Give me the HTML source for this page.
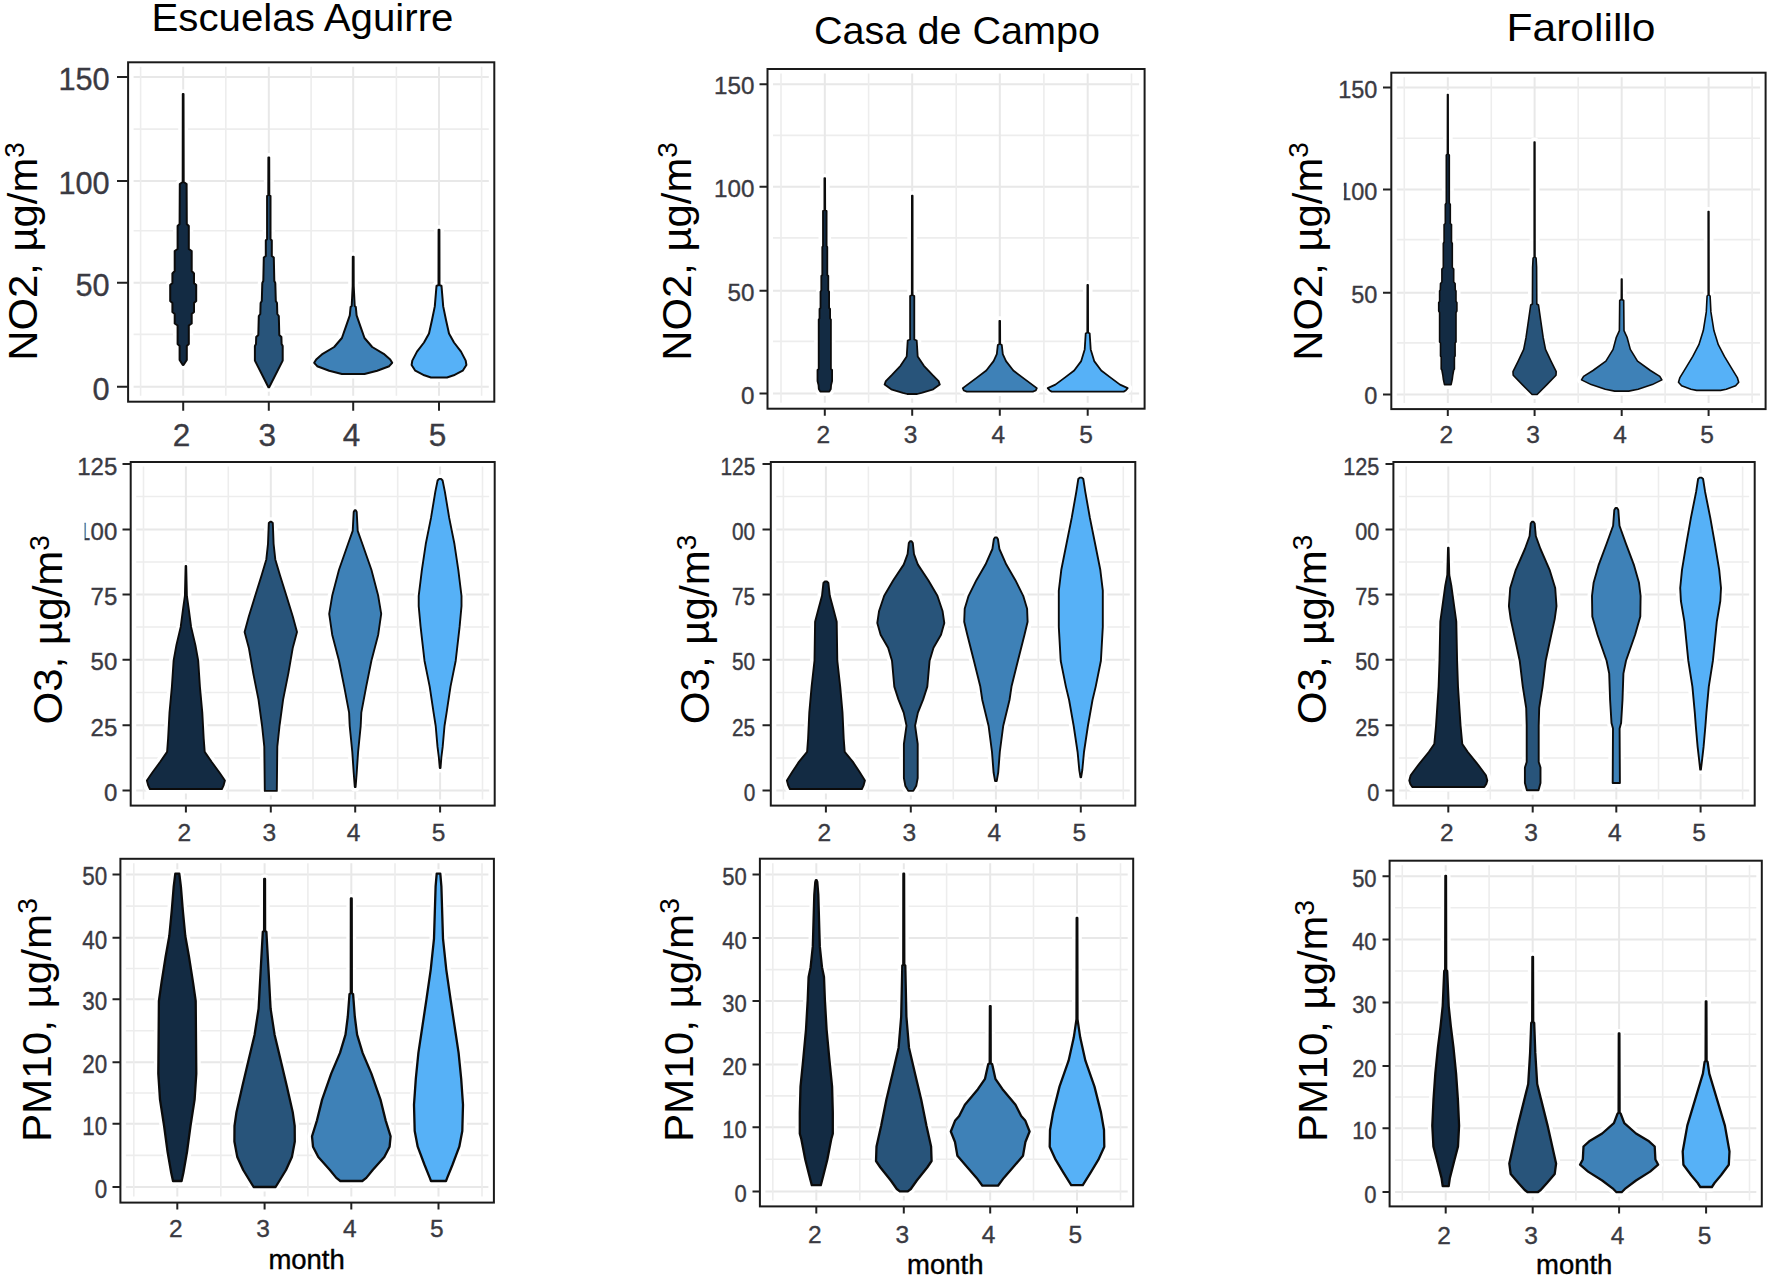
<!DOCTYPE html>
<html lang="es"><head><meta charset="utf-8"><title>Violin plots: NO2, O3, PM10 by month</title>
<style>html,body{margin:0;padding:0;background:#fff}svg{display:block}text{font-family:"Liberation Sans",Arial,sans-serif}.t{fill:#3a3a42;stroke:#3a3a42;stroke-width:.35px}.big{fill:#000}.mo{fill:#000;stroke:#000;stroke-width:.4px}</style></head><body>
<svg width="1772" height="1279" viewBox="0 0 1772 1279">
<rect width="1772" height="1279" fill="#fff"/>
<g>
<path d="M133.6 386.8H488.8M133.6 282.8H488.8M133.6 181.1H488.8M133.6 77.0H488.8" stroke="#e8e8e8" stroke-width="2.0" fill="none"/>
<path d="M133.6 129.1H488.8M133.6 230.7H488.8M133.6 334.4H488.8M140.6 66.8V395.7M225.8 66.8V395.7M311.1 66.8V395.7M396.4 66.8V395.7M481.6 66.8V395.7" stroke="#ededed" stroke-width="1.6" fill="none"/>
<path d="M183.2 66.8V395.7M268.8 66.8V395.7M353.2 66.8V395.7M439.0 66.8V395.7" stroke="#e8e8e8" stroke-width="2.0" fill="none"/>
<polygon points="182.8,94.0 182.7,182.0 179.8,184.0 179.6,224.0 177.6,226.0 177.6,249.0 174.7,251.0 174.7,271.0 172.4,273.5 172.4,283.0 170.2,285.0 170.2,301.0 172.4,303.0 172.4,312.0 174.7,314.0 174.7,323.5 177.6,325.5 177.6,344.0 179.6,346.0 179.6,360.0 182.8,365.0 183.5,365.0 186.8,360.0 186.8,346.0 188.8,344.0 188.8,325.5 191.7,323.5 191.7,314.0 194.0,312.0 194.0,303.0 196.2,301.0 196.2,285.0 194.0,283.0 194.0,273.5 191.7,271.0 191.7,251.0 188.8,249.0 188.8,226.0 186.8,224.0 186.6,184.0 183.7,182.0 183.5,94.0" fill="none" stroke="#fff" stroke-width="9" stroke-linejoin="round"/><polygon points="182.8,94.0 182.7,182.0 179.8,184.0 179.6,224.0 177.6,226.0 177.6,249.0 174.7,251.0 174.7,271.0 172.4,273.5 172.4,283.0 170.2,285.0 170.2,301.0 172.4,303.0 172.4,312.0 174.7,314.0 174.7,323.5 177.6,325.5 177.6,344.0 179.6,346.0 179.6,360.0 182.8,365.0 183.5,365.0 186.8,360.0 186.8,346.0 188.8,344.0 188.8,325.5 191.7,323.5 191.7,314.0 194.0,312.0 194.0,303.0 196.2,301.0 196.2,285.0 194.0,283.0 194.0,273.5 191.7,271.0 191.7,251.0 188.8,249.0 188.8,226.0 186.8,224.0 186.6,184.0 183.7,182.0 183.5,94.0" fill="#132b43" stroke="#0b0b0b" stroke-width="2.00" stroke-linejoin="round"/>
<polygon points="268.4,157.5 268.3,195.0 267.1,196.0 267.1,239.0 265.8,240.5 265.8,256.0 263.8,257.5 263.3,281.0 262.3,283.0 261.8,301.0 260.6,303.0 260.3,314.0 258.8,316.0 258.3,335.0 256.2,337.0 256.0,344.0 254.9,346.0 254.9,360.6 268.4,387.2 269.2,387.2 282.7,360.6 282.7,346.0 281.6,344.0 281.4,337.0 279.3,335.0 278.8,316.0 277.3,314.0 277.0,303.0 275.8,301.0 275.3,283.0 274.3,281.0 273.8,257.5 271.8,256.0 271.8,240.5 270.5,239.0 270.5,196.0 269.3,195.0 269.2,157.5" fill="none" stroke="#fff" stroke-width="9" stroke-linejoin="round"/><polygon points="268.4,157.5 268.3,195.0 267.1,196.0 267.1,239.0 265.8,240.5 265.8,256.0 263.8,257.5 263.3,281.0 262.3,283.0 261.8,301.0 260.6,303.0 260.3,314.0 258.8,316.0 258.3,335.0 256.2,337.0 256.0,344.0 254.9,346.0 254.9,360.6 268.4,387.2 269.2,387.2 282.7,360.6 282.7,346.0 281.6,344.0 281.4,337.0 279.3,335.0 278.8,316.0 277.3,314.0 277.0,303.0 275.8,301.0 275.3,283.0 274.3,281.0 273.8,257.5 271.8,256.0 271.8,240.5 270.5,239.0 270.5,196.0 269.3,195.0 269.2,157.5" fill="#28547a" stroke="#0b0b0b" stroke-width="2.00" stroke-linejoin="round"/>
<polygon points="352.8,256.7 352.7,286.0 351.7,306.0 350.6,307.0 349.8,315.4 345.9,326.7 341.9,338.0 334.2,347.0 322.7,353.8 316.2,359.5 314.2,362.8 317.2,366.2 329.2,370.7 341.9,374.0 364.5,374.0 377.2,370.7 389.2,366.2 392.2,362.8 390.2,359.5 383.7,353.8 372.2,347.0 364.5,338.0 360.5,326.7 356.6,315.4 355.8,307.0 354.7,306.0 353.7,286.0 353.6,256.7" fill="none" stroke="#fff" stroke-width="9" stroke-linejoin="round"/><polygon points="352.8,256.7 352.7,286.0 351.7,306.0 350.6,307.0 349.8,315.4 345.9,326.7 341.9,338.0 334.2,347.0 322.7,353.8 316.2,359.5 314.2,362.8 317.2,366.2 329.2,370.7 341.9,374.0 364.5,374.0 377.2,370.7 389.2,366.2 392.2,362.8 390.2,359.5 383.7,353.8 372.2,347.0 364.5,338.0 360.5,326.7 356.6,315.4 355.8,307.0 354.7,306.0 353.7,286.0 353.6,256.7" fill="#3e81b7" stroke="#0b0b0b" stroke-width="2.00" stroke-linejoin="round"/>
<polygon points="438.6,229.7 438.5,285.0 436.5,286.0 434.8,306.4 432.0,320.0 429.0,333.5 424.0,342.5 417.0,351.6 412.3,360.6 411.6,365.0 415.3,370.7 424.3,375.3 431.0,377.5 447.0,377.5 453.7,375.3 462.7,370.7 466.4,365.0 465.7,360.6 461.0,351.6 454.0,342.5 449.0,333.5 446.0,320.0 443.2,306.4 441.5,286.0 439.5,285.0 439.4,229.7" fill="none" stroke="#fff" stroke-width="9" stroke-linejoin="round"/><polygon points="438.6,229.7 438.5,285.0 436.5,286.0 434.8,306.4 432.0,320.0 429.0,333.5 424.0,342.5 417.0,351.6 412.3,360.6 411.6,365.0 415.3,370.7 424.3,375.3 431.0,377.5 447.0,377.5 453.7,375.3 462.7,370.7 466.4,365.0 465.7,360.6 461.0,351.6 454.0,342.5 449.0,333.5 446.0,320.0 443.2,306.4 441.5,286.0 439.5,285.0 439.4,229.7" fill="#56b1f7" stroke="#0b0b0b" stroke-width="2.00" stroke-linejoin="round"/>
<rect x="128.1" y="62.3" width="366.2" height="339.4" fill="none" stroke="#1a1a1a" stroke-width="2.0"/>
<path d="M117.0 386.8H128.1M117.0 282.8H128.1M117.0 181.1H128.1M117.0 77.0H128.1M183.2 401.7V410.7M268.8 401.7V410.7M353.2 401.7V410.7M439.0 401.7V410.7" stroke="#222" stroke-width="2.0" fill="none"/>
<text class="t" transform="translate(109.6 400.0) scale(1 1.040)" font-size="30.7" text-anchor="end">0</text>
<text class="t" transform="translate(109.6 296.0) scale(1 1.040)" font-size="30.7" text-anchor="end">50</text>
<text class="t" transform="translate(109.6 194.3) scale(1 1.040)" font-size="30.7" text-anchor="end">100</text>
<text class="t" transform="translate(109.6 90.2) scale(1 1.040)" font-size="30.7" text-anchor="end">150</text>
<text class="t" x="181.6" y="445.6" font-size="31.5" text-anchor="middle">2</text>
<text class="t" x="267.2" y="445.6" font-size="31.5" text-anchor="middle">3</text>
<text class="t" x="351.6" y="445.6" font-size="31.5" text-anchor="middle">4</text>
<text class="t" x="437.4" y="445.6" font-size="31.5" text-anchor="middle">5</text>
</g>
<g>
<path d="M773.0 393.5H1139.1M773.0 290.8H1139.1M773.0 186.7H1139.1M773.0 84.2H1139.1" stroke="#e8e8e8" stroke-width="2.0" fill="none"/>
<path d="M773.0 135.4H1139.1M773.0 237.9H1139.1M773.0 341.4H1139.1M781.0 73.5V402.7M868.6 73.5V402.7M956.2 73.5V402.7M1043.9 73.5V402.7M1131.5 73.5V402.7" stroke="#ededed" stroke-width="1.6" fill="none"/>
<path d="M824.8 73.5V402.7M912.2 73.5V402.7M999.8 73.5V402.7M1087.7 73.5V402.7" stroke="#e8e8e8" stroke-width="2.0" fill="none"/>
<polygon points="824.4,178.2 824.4,210.0 823.0,211.0 823.0,246.0 822.3,247.0 822.3,275.0 821.3,276.0 821.3,290.5 820.5,291.5 820.5,308.0 819.5,309.0 819.5,318.5 818.7,319.5 818.7,369.0 817.5,370.0 817.5,381.0 818.5,385.0 818.8,389.0 820.3,391.6 829.3,391.6 830.8,389.0 831.1,385.0 832.1,381.0 832.1,370.0 830.9,369.0 830.9,319.5 830.1,318.5 830.1,309.0 829.1,308.0 829.1,291.5 828.3,290.5 828.3,276.0 827.3,275.0 827.3,247.0 826.6,246.0 826.6,211.0 825.2,210.0 825.1,178.2" fill="none" stroke="#fff" stroke-width="9" stroke-linejoin="round"/><polygon points="824.4,178.2 824.4,210.0 823.0,211.0 823.0,246.0 822.3,247.0 822.3,275.0 821.3,276.0 821.3,290.5 820.5,291.5 820.5,308.0 819.5,309.0 819.5,318.5 818.7,319.5 818.7,369.0 817.5,370.0 817.5,381.0 818.5,385.0 818.8,389.0 820.3,391.6 829.3,391.6 830.8,389.0 831.1,385.0 832.1,381.0 832.1,370.0 830.9,369.0 830.9,319.5 830.1,318.5 830.1,309.0 829.1,308.0 829.1,291.5 828.3,290.5 828.3,276.0 827.3,275.0 827.3,247.0 826.6,246.0 826.6,211.0 825.2,210.0 825.1,178.2" fill="#132b43" stroke="#0b0b0b" stroke-width="1.80" stroke-linejoin="round"/>
<polygon points="911.9,195.7 911.8,295.0 910.1,296.0 910.1,339.5 907.7,340.5 906.7,356.5 900.5,365.8 891.7,375.2 885.8,381.1 884.6,384.6 891.2,389.3 902.8,392.8 907.2,394.0 917.2,394.0 921.6,392.8 933.2,389.3 939.8,384.6 938.6,381.1 932.7,375.2 923.9,365.8 917.7,356.5 916.7,340.5 914.3,339.5 914.3,296.0 912.6,295.0 912.6,195.7" fill="none" stroke="#fff" stroke-width="9" stroke-linejoin="round"/><polygon points="911.9,195.7 911.8,295.0 910.1,296.0 910.1,339.5 907.7,340.5 906.7,356.5 900.5,365.8 891.7,375.2 885.8,381.1 884.6,384.6 891.2,389.3 902.8,392.8 907.2,394.0 917.2,394.0 921.6,392.8 933.2,389.3 939.8,384.6 938.6,381.1 932.7,375.2 923.9,365.8 917.7,356.5 916.7,340.5 914.3,339.5 914.3,296.0 912.6,295.0 912.6,195.7" fill="#28547a" stroke="#0b0b0b" stroke-width="1.80" stroke-linejoin="round"/>
<polygon points="999.4,320.8 999.4,344.0 997.8,345.0 996.8,354.1 993.6,361.1 986.3,370.5 976.9,377.6 967.5,384.6 962.8,388.1 963.8,390.5 966.8,391.6 1032.8,391.6 1035.8,390.5 1036.8,388.1 1032.1,384.6 1022.7,377.6 1013.3,370.5 1006.0,361.1 1002.8,354.1 1001.8,345.0 1000.2,344.0 1000.1,320.8" fill="none" stroke="#fff" stroke-width="9" stroke-linejoin="round"/><polygon points="999.4,320.8 999.4,344.0 997.8,345.0 996.8,354.1 993.6,361.1 986.3,370.5 976.9,377.6 967.5,384.6 962.8,388.1 963.8,390.5 966.8,391.6 1032.8,391.6 1035.8,390.5 1036.8,388.1 1032.1,384.6 1022.7,377.6 1013.3,370.5 1006.0,361.1 1002.8,354.1 1001.8,345.0 1000.2,344.0 1000.1,320.8" fill="#3e81b7" stroke="#0b0b0b" stroke-width="1.80" stroke-linejoin="round"/>
<polygon points="1087.4,284.9 1087.3,332.5 1085.7,333.5 1084.7,349.4 1081.2,361.1 1074.2,370.5 1064.8,377.6 1055.4,384.6 1047.7,388.1 1049.7,390.5 1051.7,391.6 1123.7,391.6 1125.7,390.5 1127.7,388.1 1120.0,384.6 1110.6,377.6 1101.2,370.5 1094.2,361.1 1090.7,349.4 1089.7,333.5 1088.1,332.5 1088.0,284.9" fill="none" stroke="#fff" stroke-width="9" stroke-linejoin="round"/><polygon points="1087.4,284.9 1087.3,332.5 1085.7,333.5 1084.7,349.4 1081.2,361.1 1074.2,370.5 1064.8,377.6 1055.4,384.6 1047.7,388.1 1049.7,390.5 1051.7,391.6 1123.7,391.6 1125.7,390.5 1127.7,388.1 1120.0,384.6 1110.6,377.6 1101.2,370.5 1094.2,361.1 1090.7,349.4 1089.7,333.5 1088.1,332.5 1088.0,284.9" fill="#56b1f7" stroke="#0b0b0b" stroke-width="1.80" stroke-linejoin="round"/>
<rect x="767.5" y="69.0" width="377.1" height="339.7" fill="none" stroke="#1a1a1a" stroke-width="2.0"/>
<path d="M759.5 393.5H767.5M759.5 290.8H767.5M759.5 186.7H767.5M759.5 84.2H767.5M824.8 408.7V415.7M912.2 408.7V415.7M999.8 408.7V415.7M1087.7 408.7V415.7" stroke="#222" stroke-width="2.0" fill="none"/>
<text class="t" transform="translate(754.4 403.6) scale(1 0.960)" font-size="24.2" text-anchor="end">0</text>
<text class="t" transform="translate(754.4 300.9) scale(1 0.960)" font-size="24.2" text-anchor="end">50</text>
<text class="t" transform="translate(754.4 196.8) scale(1 0.960)" font-size="24.2" text-anchor="end">100</text>
<text class="t" transform="translate(754.4 94.3) scale(1 0.960)" font-size="24.2" text-anchor="end">150</text>
<text class="t" x="823.2" y="442.5" font-size="24.5" text-anchor="middle">2</text>
<text class="t" x="910.6" y="442.5" font-size="24.5" text-anchor="middle">3</text>
<text class="t" x="998.2" y="442.5" font-size="24.5" text-anchor="middle">4</text>
<text class="t" x="1086.1" y="442.5" font-size="24.5" text-anchor="middle">5</text>
</g>
<g>
<path d="M1396.8 394.4H1760.1M1396.8 292.8H1760.1M1396.8 189.5H1760.1M1396.8 87.6H1760.1" stroke="#e8e8e8" stroke-width="2.0" fill="none"/>
<path d="M1396.8 138.2H1760.1M1396.8 239.6H1760.1M1396.8 342.9H1760.1M1404.3 77.2V403.1M1491.3 77.2V403.1M1578.2 77.2V403.1M1665.1 77.2V403.1M1752.1 77.2V403.1" stroke="#ededed" stroke-width="1.6" fill="none"/>
<path d="M1447.8 77.2V403.1M1534.6 77.2V403.1M1621.7 77.2V403.1M1708.6 77.2V403.1" stroke="#e8e8e8" stroke-width="2.0" fill="none"/>
<polygon points="1447.5,94.6 1447.4,154.0 1446.3,155.0 1446.3,203.0 1445.3,204.5 1445.3,223.5 1444.1,224.5 1444.1,242.0 1443.3,243.5 1443.3,267.5 1441.9,269.0 1441.9,282.0 1440.5,283.5 1440.3,290.0 1439.6,291.0 1439.6,301.5 1438.7,302.5 1438.7,311.0 1439.6,312.5 1439.6,342.0 1440.5,343.0 1440.5,356.0 1441.2,357.0 1441.2,369.0 1441.9,370.0 1442.8,375.0 1443.3,379.0 1444.5,384.6 1451.1,384.6 1452.3,379.0 1452.8,375.0 1453.7,370.0 1454.4,369.0 1454.4,357.0 1455.1,356.0 1455.1,343.0 1456.0,342.0 1456.0,312.5 1456.9,311.0 1456.9,302.5 1456.0,301.5 1456.0,291.0 1455.3,290.0 1455.1,283.5 1453.7,282.0 1453.7,269.0 1452.3,267.5 1452.3,243.5 1451.5,242.0 1451.5,224.5 1450.3,223.5 1450.3,204.5 1449.3,203.0 1449.3,155.0 1448.2,154.0 1448.1,94.6" fill="none" stroke="#fff" stroke-width="9" stroke-linejoin="round"/><polygon points="1447.5,94.6 1447.4,154.0 1446.3,155.0 1446.3,203.0 1445.3,204.5 1445.3,223.5 1444.1,224.5 1444.1,242.0 1443.3,243.5 1443.3,267.5 1441.9,269.0 1441.9,282.0 1440.5,283.5 1440.3,290.0 1439.6,291.0 1439.6,301.5 1438.7,302.5 1438.7,311.0 1439.6,312.5 1439.6,342.0 1440.5,343.0 1440.5,356.0 1441.2,357.0 1441.2,369.0 1441.9,370.0 1442.8,375.0 1443.3,379.0 1444.5,384.6 1451.1,384.6 1452.3,379.0 1452.8,375.0 1453.7,370.0 1454.4,369.0 1454.4,357.0 1455.1,356.0 1455.1,343.0 1456.0,342.0 1456.0,312.5 1456.9,311.0 1456.9,302.5 1456.0,301.5 1456.0,291.0 1455.3,290.0 1455.1,283.5 1453.7,282.0 1453.7,269.0 1452.3,267.5 1452.3,243.5 1451.5,242.0 1451.5,224.5 1450.3,223.5 1450.3,204.5 1449.3,203.0 1449.3,155.0 1448.2,154.0 1448.1,94.6" fill="#132b43" stroke="#0b0b0b" stroke-width="1.60" stroke-linejoin="round"/>
<polygon points="1534.2,142.0 1534.2,257.0 1533.1,258.0 1532.6,267.3 1532.4,304.0 1530.7,305.0 1528.4,321.2 1526.0,337.7 1523.7,349.4 1518.2,361.1 1513.0,371.7 1513.2,375.2 1522.3,384.6 1529.6,392.0 1532.1,394.5 1537.1,394.5 1539.6,392.0 1546.9,384.6 1556.0,375.2 1556.2,371.7 1551.0,361.1 1545.5,349.4 1543.2,337.7 1540.8,321.2 1538.5,305.0 1536.8,304.0 1536.6,267.3 1536.1,258.0 1535.0,257.0 1534.9,142.0" fill="none" stroke="#fff" stroke-width="9" stroke-linejoin="round"/><polygon points="1534.2,142.0 1534.2,257.0 1533.1,258.0 1532.6,267.3 1532.4,304.0 1530.7,305.0 1528.4,321.2 1526.0,337.7 1523.7,349.4 1518.2,361.1 1513.0,371.7 1513.2,375.2 1522.3,384.6 1529.6,392.0 1532.1,394.5 1537.1,394.5 1539.6,392.0 1546.9,384.6 1556.0,375.2 1556.2,371.7 1551.0,361.1 1545.5,349.4 1543.2,337.7 1540.8,321.2 1538.5,305.0 1536.8,304.0 1536.6,267.3 1536.1,258.0 1535.0,257.0 1534.9,142.0" fill="#28547a" stroke="#0b0b0b" stroke-width="1.60" stroke-linejoin="round"/>
<polygon points="1621.4,279.0 1621.3,299.5 1619.7,300.5 1619.4,330.6 1616.2,337.7 1613.1,349.4 1605.9,361.1 1593.0,370.5 1583.6,376.4 1581.5,379.9 1591.2,384.6 1605.3,389.3 1614.7,391.1 1628.7,391.1 1638.1,389.3 1652.2,384.6 1661.9,379.9 1659.8,376.4 1650.4,370.5 1637.5,361.1 1630.3,349.4 1627.2,337.7 1624.0,330.6 1623.7,300.5 1622.1,299.5 1622.0,279.0" fill="none" stroke="#fff" stroke-width="9" stroke-linejoin="round"/><polygon points="1621.4,279.0 1621.3,299.5 1619.7,300.5 1619.4,330.6 1616.2,337.7 1613.1,349.4 1605.9,361.1 1593.0,370.5 1583.6,376.4 1581.5,379.9 1591.2,384.6 1605.3,389.3 1614.7,391.1 1628.7,391.1 1638.1,389.3 1652.2,384.6 1661.9,379.9 1659.8,376.4 1650.4,370.5 1637.5,361.1 1630.3,349.4 1627.2,337.7 1624.0,330.6 1623.7,300.5 1622.1,299.5 1622.0,279.0" fill="#3e81b7" stroke="#0b0b0b" stroke-width="1.60" stroke-linejoin="round"/>
<polygon points="1708.2,211.5 1708.2,295.0 1707.1,296.0 1706.3,311.9 1703.3,330.6 1698.9,344.7 1692.8,356.4 1685.7,368.2 1679.9,377.6 1678.5,382.2 1681.6,385.8 1691.0,389.3 1696.6,390.4 1720.6,390.4 1726.2,389.3 1735.6,385.8 1738.7,382.2 1737.3,377.6 1731.5,368.2 1724.4,356.4 1718.3,344.7 1713.9,330.6 1710.9,311.9 1710.1,296.0 1709.0,295.0 1708.9,211.5" fill="none" stroke="#fff" stroke-width="9" stroke-linejoin="round"/><polygon points="1708.2,211.5 1708.2,295.0 1707.1,296.0 1706.3,311.9 1703.3,330.6 1698.9,344.7 1692.8,356.4 1685.7,368.2 1679.9,377.6 1678.5,382.2 1681.6,385.8 1691.0,389.3 1696.6,390.4 1720.6,390.4 1726.2,389.3 1735.6,385.8 1738.7,382.2 1737.3,377.6 1731.5,368.2 1724.4,356.4 1718.3,344.7 1713.9,330.6 1710.9,311.9 1710.1,296.0 1709.0,295.0 1708.9,211.5" fill="#56b1f7" stroke="#0b0b0b" stroke-width="1.60" stroke-linejoin="round"/>
<rect x="1391.3" y="72.7" width="374.3" height="336.4" fill="none" stroke="#1a1a1a" stroke-width="2.0"/>
<path d="M1383.0 394.4H1391.3M1383.0 292.8H1391.3M1383.0 189.5H1391.3M1383.0 87.6H1391.3M1447.8 409.1V416.1M1534.6 409.1V416.1M1621.7 409.1V416.1M1708.6 409.1V416.1" stroke="#222" stroke-width="2.0" fill="none"/>
<text class="t" transform="translate(1377.4 404.4) scale(1 0.980)" font-size="23.5" text-anchor="end">0</text>
<text class="t" transform="translate(1377.4 302.8) scale(1 0.980)" font-size="23.5" text-anchor="end">50</text>
<clipPath id="c2"><rect x="1343.8" y="169.5" width="80" height="40"/></clipPath>
<g clip-path="url(#c2)"><text class="t" transform="translate(1377.4 199.5) scale(1 0.980)" font-size="23.5" text-anchor="end">100</text></g>
<text class="t" transform="translate(1377.4 97.6) scale(1 0.980)" font-size="23.5" text-anchor="end">150</text>
<text class="t" x="1446.2" y="442.7" font-size="24.5" text-anchor="middle">2</text>
<text class="t" x="1533.0" y="442.7" font-size="24.5" text-anchor="middle">3</text>
<text class="t" x="1620.1" y="442.7" font-size="24.5" text-anchor="middle">4</text>
<text class="t" x="1707.0" y="442.7" font-size="24.5" text-anchor="middle">5</text>
</g>
<g>
<path d="M136.2 790.6H489.2M136.2 725.3H489.2M136.2 659.7H489.2M136.2 594.4H489.2M136.2 529.4H489.2" stroke="#e8e8e8" stroke-width="2.0" fill="none"/>
<path d="M136.2 496.5H489.2M136.2 562.0H489.2M136.2 627.0H489.2M136.2 692.5H489.2M136.2 758.0H489.2M143.5 466.5V799.6M228.3 466.5V799.6M313.0 466.5V799.6M397.7 466.5V799.6M482.5 466.5V799.6" stroke="#ededed" stroke-width="1.6" fill="none"/>
<path d="M185.9 466.5V799.6M270.8 466.5V799.6M355.2 466.5V799.6M440.1 466.5V799.6" stroke="#e8e8e8" stroke-width="2.0" fill="none"/>
<polygon points="185.6,565.9 184.9,595.8 183.1,608.7 180.7,626.9 176.4,645.1 173.6,660.7 171.9,686.6 169.5,712.6 168.1,738.5 167.1,751.9 159.9,762.3 152.2,772.7 146.9,780.5 148.3,785.7 149.9,789.0 221.9,789.0 223.5,785.7 224.9,780.5 219.6,772.7 211.9,762.3 204.7,751.9 203.7,738.5 202.3,712.6 199.9,686.6 198.2,660.7 195.4,645.1 191.1,626.9 188.7,608.7 186.9,595.8 186.2,565.9" fill="none" stroke="#fff" stroke-width="9" stroke-linejoin="round"/><polygon points="185.6,565.9 184.9,595.8 183.1,608.7 180.7,626.9 176.4,645.1 173.6,660.7 171.9,686.6 169.5,712.6 168.1,738.5 167.1,751.9 159.9,762.3 152.2,772.7 146.9,780.5 148.3,785.7 149.9,789.0 221.9,789.0 223.5,785.7 224.9,780.5 219.6,772.7 211.9,762.3 204.7,751.9 203.7,738.5 202.3,712.6 199.9,686.6 198.2,660.7 195.4,645.1 191.1,626.9 188.7,608.7 186.9,595.8 186.2,565.9" fill="#132b43" stroke="#0b0b0b" stroke-width="1.90" stroke-linejoin="round"/>
<polygon points="270.3,521.8 268.8,523.0 268.0,543.8 266.3,559.4 261.7,575.0 255.2,595.8 248.8,616.5 244.6,632.1 248.8,647.7 253.3,673.6 258.5,699.6 262.1,726.0 264.3,746.7 264.8,790.9 276.8,790.9 277.3,746.7 279.5,726.0 283.1,699.6 288.3,673.6 292.8,647.7 297.0,632.1 292.8,616.5 286.4,595.8 279.9,575.0 275.3,559.4 273.6,543.8 272.8,523.0 271.3,521.8" fill="none" stroke="#fff" stroke-width="9" stroke-linejoin="round"/><polygon points="270.3,521.8 268.8,523.0 268.0,543.8 266.3,559.4 261.7,575.0 255.2,595.8 248.8,616.5 244.6,632.1 248.8,647.7 253.3,673.6 258.5,699.6 262.1,726.0 264.3,746.7 264.8,790.9 276.8,790.9 277.3,746.7 279.5,726.0 283.1,699.6 288.3,673.6 292.8,647.7 297.0,632.1 292.8,616.5 286.4,595.8 279.9,575.0 275.3,559.4 273.6,543.8 272.8,523.0 271.3,521.8" fill="#28547a" stroke="#0b0b0b" stroke-width="1.90" stroke-linejoin="round"/>
<polygon points="354.7,510.1 353.7,512.0 352.7,530.9 348.1,543.8 339.0,569.8 332.2,595.8 329.2,613.9 332.2,634.7 339.0,660.7 344.2,686.6 349.1,712.6 349.7,726.0 352.3,752.0 353.7,772.7 354.8,787.0 355.6,787.0 356.7,772.7 358.1,752.0 360.7,726.0 361.3,712.6 366.2,686.6 371.4,660.7 378.2,634.7 381.2,613.9 378.2,595.8 371.4,569.8 362.3,543.8 357.7,530.9 356.7,512.0 355.7,510.1" fill="none" stroke="#fff" stroke-width="9" stroke-linejoin="round"/><polygon points="354.7,510.1 353.7,512.0 352.7,530.9 348.1,543.8 339.0,569.8 332.2,595.8 329.2,613.9 332.2,634.7 339.0,660.7 344.2,686.6 349.1,712.6 349.7,726.0 352.3,752.0 353.7,772.7 354.8,787.0 355.6,787.0 356.7,772.7 358.1,752.0 360.7,726.0 361.3,712.6 366.2,686.6 371.4,660.7 378.2,634.7 381.2,613.9 378.2,595.8 371.4,569.8 362.3,543.8 357.7,530.9 356.7,512.0 355.7,510.1" fill="#3e81b7" stroke="#0b0b0b" stroke-width="1.90" stroke-linejoin="round"/>
<polygon points="439.1,478.9 437.6,480.5 435.3,491.9 431.0,517.9 425.8,543.8 421.9,569.8 418.7,595.8 418.7,606.1 420.6,626.9 424.5,660.7 429.7,686.6 433.6,712.6 435.7,726.0 437.5,746.7 438.8,757.0 439.8,768.0 440.5,768.0 441.4,757.0 442.7,746.7 444.5,726.0 446.6,712.6 450.5,686.6 455.7,660.7 459.6,626.9 461.5,606.1 461.5,595.8 458.3,569.8 454.4,543.8 449.2,517.9 444.9,491.9 442.6,480.5 441.1,478.9" fill="none" stroke="#fff" stroke-width="9" stroke-linejoin="round"/><polygon points="439.1,478.9 437.6,480.5 435.3,491.9 431.0,517.9 425.8,543.8 421.9,569.8 418.7,595.8 418.7,606.1 420.6,626.9 424.5,660.7 429.7,686.6 433.6,712.6 435.7,726.0 437.5,746.7 438.8,757.0 439.8,768.0 440.5,768.0 441.4,757.0 442.7,746.7 444.5,726.0 446.6,712.6 450.5,686.6 455.7,660.7 459.6,626.9 461.5,606.1 461.5,595.8 458.3,569.8 454.4,543.8 449.2,517.9 444.9,491.9 442.6,480.5 441.1,478.9" fill="#56b1f7" stroke="#0b0b0b" stroke-width="1.90" stroke-linejoin="round"/>
<rect x="130.7" y="462.0" width="364.0" height="343.6" fill="none" stroke="#1a1a1a" stroke-width="2.0"/>
<path d="M122.5 790.6H130.7M122.5 725.3H130.7M122.5 659.7H130.7M122.5 594.4H130.7M122.5 529.4H130.7M122.5 464.0H130.7M185.9 805.6V812.6M270.8 805.6V812.6M355.2 805.6V812.6M440.1 805.6V812.6" stroke="#222" stroke-width="2.0" fill="none"/>
<text class="t" transform="translate(117.3 801.2) scale(1 1.030)" font-size="24.0" text-anchor="end">0</text>
<text class="t" transform="translate(117.3 735.9) scale(1 1.030)" font-size="24.0" text-anchor="end">25</text>
<text class="t" transform="translate(117.3 670.3) scale(1 1.030)" font-size="24.0" text-anchor="end">50</text>
<text class="t" transform="translate(117.3 605.0) scale(1 1.030)" font-size="24.0" text-anchor="end">75</text>
<clipPath id="c3"><rect x="84.6" y="509.4" width="80" height="40"/></clipPath>
<g clip-path="url(#c3)"><text class="t" transform="translate(117.3 540.0) scale(1 1.030)" font-size="24.0" text-anchor="end">100</text></g>
<text class="t" transform="translate(117.3 474.6) scale(1 1.030)" font-size="24.0" text-anchor="end">125</text>
<text class="t" x="184.3" y="841.3" font-size="24.5" text-anchor="middle">2</text>
<text class="t" x="269.2" y="841.3" font-size="24.5" text-anchor="middle">3</text>
<text class="t" x="353.6" y="841.3" font-size="24.5" text-anchor="middle">4</text>
<text class="t" x="438.5" y="841.3" font-size="24.5" text-anchor="middle">5</text>
</g>
<g>
<path d="M776.3 790.6H1129.8M776.3 725.3H1129.8M776.3 659.7H1129.8M776.3 594.4H1129.8M776.3 529.4H1129.8" stroke="#e8e8e8" stroke-width="2.0" fill="none"/>
<path d="M776.3 496.5H1129.8M776.3 562.0H1129.8M776.3 627.0H1129.8M776.3 692.5H1129.8M776.3 758.0H1129.8M783.4 466.5V799.6M868.4 466.5V799.6M953.3 466.5V799.6M1038.3 466.5V799.6M1123.3 466.5V799.6" stroke="#ededed" stroke-width="1.6" fill="none"/>
<path d="M825.9 466.5V799.6M910.8 466.5V799.6M995.9 466.5V799.6M1080.8 466.5V799.6" stroke="#e8e8e8" stroke-width="2.0" fill="none"/>
<polygon points="824.9,581.5 823.4,583.0 822.0,595.8 818.5,608.7 815.1,621.7 814.5,660.7 811.6,686.6 809.3,712.6 808.1,738.5 807.1,751.9 798.9,761.9 792.2,772.0 786.9,780.5 788.3,785.7 789.9,789.0 861.9,789.0 863.5,785.7 864.9,780.5 859.6,772.0 852.9,761.9 844.7,751.9 843.7,738.5 842.5,712.6 840.2,686.6 837.3,660.7 836.7,621.7 833.3,608.7 829.8,595.8 828.4,583.0 826.9,581.5" fill="none" stroke="#fff" stroke-width="9" stroke-linejoin="round"/><polygon points="824.9,581.5 823.4,583.0 822.0,595.8 818.5,608.7 815.1,621.7 814.5,660.7 811.6,686.6 809.3,712.6 808.1,738.5 807.1,751.9 798.9,761.9 792.2,772.0 786.9,780.5 788.3,785.7 789.9,789.0 861.9,789.0 863.5,785.7 864.9,780.5 859.6,772.0 852.9,761.9 844.7,751.9 843.7,738.5 842.5,712.6 840.2,686.6 837.3,660.7 836.7,621.7 833.3,608.7 829.8,595.8 828.4,583.0 826.9,581.5" fill="#132b43" stroke="#0b0b0b" stroke-width="1.90" stroke-linejoin="round"/>
<polygon points="910.0,541.2 908.8,543.0 907.6,554.2 903.7,564.6 893.3,580.2 884.2,595.8 879.0,611.3 877.3,623.0 880.6,634.7 888.1,647.7 892.0,660.7 894.3,686.6 898.5,699.6 903.7,712.6 906.5,725.6 904.7,738.5 903.9,744.0 903.9,778.0 905.3,785.7 908.3,790.9 913.3,790.9 916.3,785.7 917.7,778.0 917.7,744.0 916.9,738.5 915.1,725.6 917.9,712.6 923.1,699.6 927.3,686.6 929.6,660.7 933.5,647.7 941.0,634.7 944.3,623.0 942.6,611.3 937.4,595.8 928.3,580.2 917.9,564.6 914.0,554.2 912.8,543.0 911.6,541.2" fill="none" stroke="#fff" stroke-width="9" stroke-linejoin="round"/><polygon points="910.0,541.2 908.8,543.0 907.6,554.2 903.7,564.6 893.3,580.2 884.2,595.8 879.0,611.3 877.3,623.0 880.6,634.7 888.1,647.7 892.0,660.7 894.3,686.6 898.5,699.6 903.7,712.6 906.5,725.6 904.7,738.5 903.9,744.0 903.9,778.0 905.3,785.7 908.3,790.9 913.3,790.9 916.3,785.7 917.7,778.0 917.7,744.0 916.9,738.5 915.1,725.6 917.9,712.6 923.1,699.6 927.3,686.6 929.6,660.7 933.5,647.7 941.0,634.7 944.3,623.0 942.6,611.3 937.4,595.8 928.3,580.2 917.9,564.6 914.0,554.2 912.8,543.0 911.6,541.2" fill="#28547a" stroke="#0b0b0b" stroke-width="1.90" stroke-linejoin="round"/>
<polygon points="995.1,537.4 993.9,539.0 992.4,549.0 985.5,564.6 976.4,580.2 968.6,595.8 964.7,608.7 964.2,621.7 967.3,634.7 973.9,660.7 980.3,686.6 982.3,700.0 988.6,726.0 992.0,752.0 993.6,772.7 995.1,781.0 996.7,781.0 998.2,772.7 999.8,752.0 1003.2,726.0 1009.5,700.0 1011.5,686.6 1017.9,660.7 1024.5,634.7 1027.6,621.7 1027.1,608.7 1023.2,595.8 1015.4,580.2 1006.3,564.6 999.4,549.0 997.9,539.0 996.7,537.4" fill="none" stroke="#fff" stroke-width="9" stroke-linejoin="round"/><polygon points="995.1,537.4 993.9,539.0 992.4,549.0 985.5,564.6 976.4,580.2 968.6,595.8 964.7,608.7 964.2,621.7 967.3,634.7 973.9,660.7 980.3,686.6 982.3,700.0 988.6,726.0 992.0,752.0 993.6,772.7 995.1,781.0 996.7,781.0 998.2,772.7 999.8,752.0 1003.2,726.0 1009.5,700.0 1011.5,686.6 1017.9,660.7 1024.5,634.7 1027.6,621.7 1027.1,608.7 1023.2,595.8 1015.4,580.2 1006.3,564.6 999.4,549.0 997.9,539.0 996.7,537.4" fill="#3e81b7" stroke="#0b0b0b" stroke-width="1.90" stroke-linejoin="round"/>
<polygon points="1079.8,477.6 1078.3,479.0 1076.3,491.9 1071.7,517.9 1066.5,543.8 1061.3,569.8 1058.8,590.6 1058.8,626.9 1060.7,660.7 1065.9,686.6 1069.1,700.0 1073.7,726.0 1077.6,752.0 1079.3,770.0 1080.5,777.4 1081.1,777.4 1082.3,770.0 1084.0,752.0 1087.9,726.0 1092.5,700.0 1095.7,686.6 1100.9,660.7 1102.8,626.9 1102.8,590.6 1100.3,569.8 1095.1,543.8 1089.9,517.9 1085.3,491.9 1083.3,479.0 1081.8,477.6" fill="none" stroke="#fff" stroke-width="9" stroke-linejoin="round"/><polygon points="1079.8,477.6 1078.3,479.0 1076.3,491.9 1071.7,517.9 1066.5,543.8 1061.3,569.8 1058.8,590.6 1058.8,626.9 1060.7,660.7 1065.9,686.6 1069.1,700.0 1073.7,726.0 1077.6,752.0 1079.3,770.0 1080.5,777.4 1081.1,777.4 1082.3,770.0 1084.0,752.0 1087.9,726.0 1092.5,700.0 1095.7,686.6 1100.9,660.7 1102.8,626.9 1102.8,590.6 1100.3,569.8 1095.1,543.8 1089.9,517.9 1085.3,491.9 1083.3,479.0 1081.8,477.6" fill="#56b1f7" stroke="#0b0b0b" stroke-width="1.90" stroke-linejoin="round"/>
<rect x="770.8" y="462.0" width="364.5" height="343.6" fill="none" stroke="#1a1a1a" stroke-width="2.0"/>
<path d="M762.5 790.6H770.8M762.5 725.3H770.8M762.5 659.7H770.8M762.5 594.4H770.8M762.5 529.4H770.8M762.5 464.0H770.8M825.9 805.6V812.6M910.8 805.6V812.6M995.9 805.6V812.6M1080.8 805.6V812.6" stroke="#222" stroke-width="2.0" fill="none"/>
<text class="t" transform="translate(755.2 801.3) scale(1 1.190)" font-size="20.8" text-anchor="end">0</text>
<text class="t" transform="translate(755.2 736.0) scale(1 1.190)" font-size="20.8" text-anchor="end">25</text>
<text class="t" transform="translate(755.2 670.4) scale(1 1.190)" font-size="20.8" text-anchor="end">50</text>
<text class="t" transform="translate(755.2 605.1) scale(1 1.190)" font-size="20.8" text-anchor="end">75</text>
<text class="t" transform="translate(755.2 540.1) scale(1 1.190)" font-size="20.8" text-anchor="end">00</text>
<text class="t" transform="translate(755.2 474.7) scale(1 1.190)" font-size="20.8" text-anchor="end">125</text>
<text class="t" x="824.3" y="841.3" font-size="24.5" text-anchor="middle">2</text>
<text class="t" x="909.2" y="841.3" font-size="24.5" text-anchor="middle">3</text>
<text class="t" x="994.3" y="841.3" font-size="24.5" text-anchor="middle">4</text>
<text class="t" x="1079.2" y="841.3" font-size="24.5" text-anchor="middle">5</text>
</g>
<g>
<path d="M1398.9 790.6H1749.2M1398.9 725.3H1749.2M1398.9 659.7H1749.2M1398.9 594.4H1749.2M1398.9 529.4H1749.2" stroke="#e8e8e8" stroke-width="2.0" fill="none"/>
<path d="M1398.9 496.5H1749.2M1398.9 562.0H1749.2M1398.9 627.0H1749.2M1398.9 692.5H1749.2M1398.9 758.0H1749.2M1406.2 466.5V799.6M1490.3 466.5V799.6M1574.4 466.5V799.6M1658.5 466.5V799.6M1742.6 466.5V799.6" stroke="#ededed" stroke-width="1.6" fill="none"/>
<path d="M1448.3 466.5V799.6M1532.7 466.5V799.6M1616.3 466.5V799.6M1700.6 466.5V799.6" stroke="#e8e8e8" stroke-width="2.0" fill="none"/>
<polygon points="1448.0,547.7 1447.3,575.0 1445.3,585.4 1442.1,608.7 1440.3,621.7 1439.5,660.7 1438.6,686.6 1436.9,712.6 1436.0,726.0 1434.3,744.0 1428.8,752.0 1418.3,765.0 1410.7,775.3 1409.3,780.5 1410.3,784.0 1412.3,787.0 1484.3,787.0 1486.3,784.0 1487.3,780.5 1485.9,775.3 1478.3,765.0 1467.8,752.0 1462.3,744.0 1460.6,726.0 1459.7,712.6 1458.0,686.6 1457.1,660.7 1456.3,621.7 1454.5,608.7 1451.3,585.4 1449.3,575.0 1448.6,547.7" fill="none" stroke="#fff" stroke-width="9" stroke-linejoin="round"/><polygon points="1448.0,547.7 1447.3,575.0 1445.3,585.4 1442.1,608.7 1440.3,621.7 1439.5,660.7 1438.6,686.6 1436.9,712.6 1436.0,726.0 1434.3,744.0 1428.8,752.0 1418.3,765.0 1410.7,775.3 1409.3,780.5 1410.3,784.0 1412.3,787.0 1484.3,787.0 1486.3,784.0 1487.3,780.5 1485.9,775.3 1478.3,765.0 1467.8,752.0 1462.3,744.0 1460.6,726.0 1459.7,712.6 1458.0,686.6 1457.1,660.7 1456.3,621.7 1454.5,608.7 1451.3,585.4 1449.3,575.0 1448.6,547.7" fill="#132b43" stroke="#0b0b0b" stroke-width="1.90" stroke-linejoin="round"/>
<polygon points="1531.9,521.8 1530.7,523.5 1529.6,536.0 1524.9,549.0 1515.8,569.8 1510.2,588.0 1508.9,606.1 1510.7,619.1 1515.8,642.5 1519.7,660.7 1522.8,686.6 1526.2,708.0 1526.7,725.6 1526.7,762.0 1524.9,767.5 1524.9,783.0 1526.9,790.3 1538.5,790.3 1540.5,783.0 1540.5,767.5 1538.7,762.0 1538.7,725.6 1539.2,708.0 1542.6,686.6 1545.7,660.7 1549.6,642.5 1554.7,619.1 1556.5,606.1 1555.2,588.0 1549.6,569.8 1540.5,549.0 1535.8,536.0 1534.7,523.5 1533.5,521.8" fill="none" stroke="#fff" stroke-width="9" stroke-linejoin="round"/><polygon points="1531.9,521.8 1530.7,523.5 1529.6,536.0 1524.9,549.0 1515.8,569.8 1510.2,588.0 1508.9,606.1 1510.7,619.1 1515.8,642.5 1519.7,660.7 1522.8,686.6 1526.2,708.0 1526.7,725.6 1526.7,762.0 1524.9,767.5 1524.9,783.0 1526.9,790.3 1538.5,790.3 1540.5,783.0 1540.5,767.5 1538.7,762.0 1538.7,725.6 1539.2,708.0 1542.6,686.6 1545.7,660.7 1549.6,642.5 1554.7,619.1 1556.5,606.1 1555.2,588.0 1549.6,569.8 1540.5,549.0 1535.8,536.0 1534.7,523.5 1533.5,521.8" fill="#28547a" stroke="#0b0b0b" stroke-width="1.90" stroke-linejoin="round"/>
<polygon points="1615.5,508.0 1614.3,510.0 1613.1,525.7 1606.6,543.8 1598.8,564.6 1593.6,582.8 1592.0,595.8 1592.3,616.5 1597.5,634.7 1606.6,660.7 1609.2,673.6 1610.1,700.0 1611.5,723.0 1613.0,728.6 1612.7,783.0 1619.9,783.0 1619.6,728.6 1621.1,723.0 1622.5,700.0 1623.4,673.6 1626.0,660.7 1635.1,634.7 1640.3,616.5 1640.6,595.8 1639.0,582.8 1633.8,564.6 1626.0,543.8 1619.5,525.7 1618.3,510.0 1617.1,508.0" fill="none" stroke="#fff" stroke-width="9" stroke-linejoin="round"/><polygon points="1615.5,508.0 1614.3,510.0 1613.1,525.7 1606.6,543.8 1598.8,564.6 1593.6,582.8 1592.0,595.8 1592.3,616.5 1597.5,634.7 1606.6,660.7 1609.2,673.6 1610.1,700.0 1611.5,723.0 1613.0,728.6 1612.7,783.0 1619.9,783.0 1619.6,728.6 1621.1,723.0 1622.5,700.0 1623.4,673.6 1626.0,660.7 1635.1,634.7 1640.3,616.5 1640.6,595.8 1639.0,582.8 1633.8,564.6 1626.0,543.8 1619.5,525.7 1618.3,510.0 1617.1,508.0" fill="#3e81b7" stroke="#0b0b0b" stroke-width="1.90" stroke-linejoin="round"/>
<polygon points="1699.6,477.6 1698.1,479.0 1696.1,491.9 1690.9,517.9 1686.3,543.8 1682.0,569.8 1680.2,588.0 1680.9,601.0 1684.4,621.7 1688.3,660.7 1692.4,686.6 1694.8,712.6 1695.8,726.0 1697.6,746.7 1699.1,759.7 1700.2,769.6 1700.9,769.6 1702.1,759.7 1703.6,746.7 1705.4,726.0 1706.4,712.6 1708.8,686.6 1712.9,660.7 1716.8,621.7 1720.3,601.0 1721.0,588.0 1719.2,569.8 1714.9,543.8 1710.3,517.9 1705.1,491.9 1703.1,479.0 1701.6,477.6" fill="none" stroke="#fff" stroke-width="9" stroke-linejoin="round"/><polygon points="1699.6,477.6 1698.1,479.0 1696.1,491.9 1690.9,517.9 1686.3,543.8 1682.0,569.8 1680.2,588.0 1680.9,601.0 1684.4,621.7 1688.3,660.7 1692.4,686.6 1694.8,712.6 1695.8,726.0 1697.6,746.7 1699.1,759.7 1700.2,769.6 1700.9,769.6 1702.1,759.7 1703.6,746.7 1705.4,726.0 1706.4,712.6 1708.8,686.6 1712.9,660.7 1716.8,621.7 1720.3,601.0 1721.0,588.0 1719.2,569.8 1714.9,543.8 1710.3,517.9 1705.1,491.9 1703.1,479.0 1701.6,477.6" fill="#56b1f7" stroke="#0b0b0b" stroke-width="1.90" stroke-linejoin="round"/>
<rect x="1393.4" y="462.0" width="361.3" height="343.6" fill="none" stroke="#1a1a1a" stroke-width="2.0"/>
<path d="M1385.5 790.6H1393.4M1385.5 725.3H1393.4M1385.5 659.7H1393.4M1385.5 594.4H1393.4M1385.5 529.4H1393.4M1385.5 464.0H1393.4M1448.3 805.6V812.6M1532.7 805.6V812.6M1616.3 805.6V812.6M1700.6 805.6V812.6" stroke="#222" stroke-width="2.0" fill="none"/>
<text class="t" transform="translate(1379.4 801.3) scale(1 1.140)" font-size="21.7" text-anchor="end">0</text>
<text class="t" transform="translate(1379.4 736.0) scale(1 1.140)" font-size="21.7" text-anchor="end">25</text>
<text class="t" transform="translate(1379.4 670.4) scale(1 1.140)" font-size="21.7" text-anchor="end">50</text>
<text class="t" transform="translate(1379.4 605.1) scale(1 1.140)" font-size="21.7" text-anchor="end">75</text>
<text class="t" transform="translate(1379.4 540.1) scale(1 1.140)" font-size="21.7" text-anchor="end">00</text>
<text class="t" transform="translate(1379.4 474.7) scale(1 1.140)" font-size="21.7" text-anchor="end">125</text>
<text class="t" x="1446.7" y="841.3" font-size="24.5" text-anchor="middle">2</text>
<text class="t" x="1531.1" y="841.3" font-size="24.5" text-anchor="middle">3</text>
<text class="t" x="1614.7" y="841.3" font-size="24.5" text-anchor="middle">4</text>
<text class="t" x="1699.0" y="841.3" font-size="24.5" text-anchor="middle">5</text>
</g>
<g>
<path d="M125.9 1187.1H488.4M125.9 1123.8H488.4M125.9 1062.2H488.4M125.9 999.2H488.4M125.9 937.8H488.4M125.9 874.4H488.4" stroke="#e8e8e8" stroke-width="2.0" fill="none"/>
<path d="M125.9 906.1H488.4M125.9 968.5H488.4M125.9 1030.7H488.4M125.9 1093.0H488.4M125.9 1155.4H488.4M133.8 863.3V1196.6M220.8 863.3V1196.6M307.9 863.3V1196.6M395.0 863.3V1196.6M482.0 863.3V1196.6" stroke="#ededed" stroke-width="1.6" fill="none"/>
<path d="M177.3 863.3V1196.6M264.6 863.3V1196.6M351.3 863.3V1196.6M438.5 863.3V1196.6" stroke="#e8e8e8" stroke-width="2.0" fill="none"/>
<polygon points="175.3,873.7 173.7,886.7 171.8,910.0 169.3,936.0 165.6,956.8 161.5,982.8 158.9,1001.0 158.3,1073.6 160.0,1099.6 164.1,1126.0 167.6,1152.0 171.2,1172.7 173.0,1181.0 181.6,1181.0 183.4,1172.7 187.0,1152.0 190.5,1126.0 194.6,1099.6 196.3,1073.6 195.7,1001.0 193.1,982.8 189.0,956.8 185.3,936.0 182.8,910.0 180.9,886.7 179.3,873.7" fill="none" stroke="#fff" stroke-width="9" stroke-linejoin="round"/><polygon points="175.3,873.7 173.7,886.7 171.8,910.0 169.3,936.0 165.6,956.8 161.5,982.8 158.9,1001.0 158.3,1073.6 160.0,1099.6 164.1,1126.0 167.6,1152.0 171.2,1172.7 173.0,1181.0 181.6,1181.0 183.4,1172.7 187.0,1152.0 190.5,1126.0 194.6,1099.6 196.3,1073.6 195.7,1001.0 193.1,982.8 189.0,956.8 185.3,936.0 182.8,910.0 180.9,886.7 179.3,873.7" fill="#132b43" stroke="#0b0b0b" stroke-width="2.30" stroke-linejoin="round"/>
<polygon points="264.2,878.9 264.1,930.9 262.8,932.0 260.7,969.8 258.6,1008.7 254.6,1034.7 248.4,1060.7 242.3,1086.6 236.4,1112.6 234.5,1126.0 234.4,1141.5 237.3,1157.1 243.2,1170.0 249.6,1180.5 253.6,1187.0 275.6,1187.0 279.6,1180.5 286.0,1170.0 291.9,1157.1 294.8,1141.5 294.7,1126.0 292.8,1112.6 286.9,1086.6 280.8,1060.7 274.6,1034.7 270.6,1008.7 268.5,969.8 266.4,932.0 265.1,930.9 265.0,878.9" fill="none" stroke="#fff" stroke-width="9" stroke-linejoin="round"/><polygon points="264.2,878.9 264.1,930.9 262.8,932.0 260.7,969.8 258.6,1008.7 254.6,1034.7 248.4,1060.7 242.3,1086.6 236.4,1112.6 234.5,1126.0 234.4,1141.5 237.3,1157.1 243.2,1170.0 249.6,1180.5 253.6,1187.0 275.6,1187.0 279.6,1180.5 286.0,1170.0 291.9,1157.1 294.8,1141.5 294.7,1126.0 292.8,1112.6 286.9,1086.6 280.8,1060.7 274.6,1034.7 270.6,1008.7 268.5,969.8 266.4,932.0 265.1,930.9 265.0,878.9" fill="#28547a" stroke="#0b0b0b" stroke-width="2.30" stroke-linejoin="round"/>
<polygon points="350.9,898.4 350.8,993.2 349.5,994.2 347.8,1016.5 345.5,1034.7 340.0,1052.9 331.2,1073.6 322.1,1099.6 316.9,1120.6 312.0,1136.3 313.0,1146.7 318.3,1157.0 329.9,1170.0 336.3,1177.9 340.3,1181.0 362.3,1181.0 366.3,1177.9 372.7,1170.0 384.3,1157.0 389.6,1146.7 390.6,1136.3 385.7,1120.6 380.5,1099.6 371.4,1073.6 362.6,1052.9 357.1,1034.7 354.8,1016.5 353.1,994.2 351.8,993.2 351.7,898.4" fill="none" stroke="#fff" stroke-width="9" stroke-linejoin="round"/><polygon points="350.9,898.4 350.8,993.2 349.5,994.2 347.8,1016.5 345.5,1034.7 340.0,1052.9 331.2,1073.6 322.1,1099.6 316.9,1120.6 312.0,1136.3 313.0,1146.7 318.3,1157.0 329.9,1170.0 336.3,1177.9 340.3,1181.0 362.3,1181.0 366.3,1177.9 372.7,1170.0 384.3,1157.0 389.6,1146.7 390.6,1136.3 385.7,1120.6 380.5,1099.6 371.4,1073.6 362.6,1052.9 357.1,1034.7 354.8,1016.5 353.1,994.2 351.8,993.2 351.7,898.4" fill="#3e81b7" stroke="#0b0b0b" stroke-width="2.30" stroke-linejoin="round"/>
<polygon points="436.7,873.7 435.6,886.7 434.0,938.6 430.7,969.8 426.2,1001.0 422.3,1027.0 418.4,1052.9 415.8,1078.8 414.0,1104.8 414.7,1131.0 417.7,1146.7 424.6,1165.0 429.8,1177.9 431.0,1181.0 446.0,1181.0 447.2,1177.9 452.4,1165.0 459.3,1146.7 462.3,1131.0 463.0,1104.8 461.2,1078.8 458.6,1052.9 454.7,1027.0 450.8,1001.0 446.3,969.8 443.0,938.6 441.4,886.7 440.3,873.7" fill="none" stroke="#fff" stroke-width="9" stroke-linejoin="round"/><polygon points="436.7,873.7 435.6,886.7 434.0,938.6 430.7,969.8 426.2,1001.0 422.3,1027.0 418.4,1052.9 415.8,1078.8 414.0,1104.8 414.7,1131.0 417.7,1146.7 424.6,1165.0 429.8,1177.9 431.0,1181.0 446.0,1181.0 447.2,1177.9 452.4,1165.0 459.3,1146.7 462.3,1131.0 463.0,1104.8 461.2,1078.8 458.6,1052.9 454.7,1027.0 450.8,1001.0 446.3,969.8 443.0,938.6 441.4,886.7 440.3,873.7" fill="#56b1f7" stroke="#0b0b0b" stroke-width="2.30" stroke-linejoin="round"/>
<rect x="120.4" y="858.8" width="373.5" height="343.8" fill="none" stroke="#1a1a1a" stroke-width="2.0"/>
<path d="M112.5 1187.1H120.4M112.5 1123.8H120.4M112.5 1062.2H120.4M112.5 999.2H120.4M112.5 937.8H120.4M112.5 874.4H120.4M177.3 1202.6V1209.6M264.6 1202.6V1209.6M351.3 1202.6V1209.6M438.5 1202.6V1209.6" stroke="#222" stroke-width="2.0" fill="none"/>
<text class="t" transform="translate(107.2 1197.9) scale(1 1.120)" font-size="22.4" text-anchor="end">0</text>
<text class="t" transform="translate(107.2 1134.6) scale(1 1.120)" font-size="22.4" text-anchor="end">10</text>
<text class="t" transform="translate(107.2 1073.0) scale(1 1.120)" font-size="22.4" text-anchor="end">20</text>
<text class="t" transform="translate(107.2 1010.0) scale(1 1.120)" font-size="22.4" text-anchor="end">30</text>
<text class="t" transform="translate(107.2 948.6) scale(1 1.120)" font-size="22.4" text-anchor="end">40</text>
<text class="t" transform="translate(107.2 885.2) scale(1 1.120)" font-size="22.4" text-anchor="end">50</text>
<text class="t" x="175.7" y="1237.1" font-size="24.5" text-anchor="middle">2</text>
<text class="t" x="263.0" y="1237.1" font-size="24.5" text-anchor="middle">3</text>
<text class="t" x="349.7" y="1237.1" font-size="24.5" text-anchor="middle">4</text>
<text class="t" x="436.9" y="1237.1" font-size="24.5" text-anchor="middle">5</text>
<text class="mo" x="306.6" y="1268.6" font-size="27.5" text-anchor="middle">month</text>
</g>
<g>
<path d="M765.4 1191.4H1127.7M765.4 1127.3H1127.7M765.4 1064.5H1127.7M765.4 1001.1H1127.7M765.4 938.1H1127.7M765.4 874.5H1127.7" stroke="#e8e8e8" stroke-width="2.0" fill="none"/>
<path d="M765.4 906.3H1127.7M765.4 969.6H1127.7M765.4 1032.8H1127.7M765.4 1095.9H1127.7M765.4 1159.3H1127.7M772.8 863.2V1200.4M859.8 863.2V1200.4M946.6 863.2V1200.4M1033.5 863.2V1200.4M1120.5 863.2V1200.4" stroke="#ededed" stroke-width="1.6" fill="none"/>
<path d="M816.3 863.2V1200.4M903.8 863.2V1200.4M990.2 863.2V1200.4M1077.0 863.2V1200.4" stroke="#e8e8e8" stroke-width="2.0" fill="none"/>
<polygon points="815.9,880.2 815.3,882.0 814.3,894.5 812.8,946.4 810.6,967.2 808.6,977.0 807.7,1000.0 806.0,1029.5 803.1,1060.7 800.5,1086.6 799.8,1112.6 799.8,1133.7 801.3,1139.0 805.3,1159.7 809.2,1175.3 811.8,1185.2 820.8,1185.2 823.4,1175.3 827.3,1159.7 831.3,1139.0 832.8,1133.7 832.8,1112.6 832.1,1086.6 829.5,1060.7 826.6,1029.5 824.9,1000.0 824.0,977.0 822.0,967.2 819.8,946.4 818.3,894.5 817.3,882.0 816.6,880.2" fill="none" stroke="#fff" stroke-width="9" stroke-linejoin="round"/><polygon points="815.9,880.2 815.3,882.0 814.3,894.5 812.8,946.4 810.6,967.2 808.6,977.0 807.7,1000.0 806.0,1029.5 803.1,1060.7 800.5,1086.6 799.8,1112.6 799.8,1133.7 801.3,1139.0 805.3,1159.7 809.2,1175.3 811.8,1185.2 820.8,1185.2 823.4,1175.3 827.3,1159.7 831.3,1139.0 832.8,1133.7 832.8,1112.6 832.1,1086.6 829.5,1060.7 826.6,1029.5 824.9,1000.0 824.0,977.0 822.0,967.2 819.8,946.4 818.3,894.5 817.3,882.0 816.6,880.2" fill="#132b43" stroke="#0b0b0b" stroke-width="2.30" stroke-linejoin="round"/>
<polygon points="903.4,873.7 903.3,964.6 902.3,965.6 901.2,1016.5 898.6,1047.7 892.6,1073.6 886.4,1099.6 881.2,1125.6 876.5,1146.5 876.0,1161.0 880.4,1167.5 890.8,1180.5 896.8,1189.0 899.8,1191.4 907.8,1191.4 910.8,1189.0 916.8,1180.5 927.2,1167.5 931.6,1161.0 931.1,1146.5 926.4,1125.6 921.2,1099.6 915.0,1073.6 909.0,1047.7 906.4,1016.5 905.3,965.6 904.3,964.6 904.1,873.7" fill="none" stroke="#fff" stroke-width="9" stroke-linejoin="round"/><polygon points="903.4,873.7 903.3,964.6 902.3,965.6 901.2,1016.5 898.6,1047.7 892.6,1073.6 886.4,1099.6 881.2,1125.6 876.5,1146.5 876.0,1161.0 880.4,1167.5 890.8,1180.5 896.8,1189.0 899.8,1191.4 907.8,1191.4 910.8,1189.0 916.8,1180.5 927.2,1167.5 931.6,1161.0 931.1,1146.5 926.4,1125.6 921.2,1099.6 915.0,1073.6 909.0,1047.7 906.4,1016.5 905.3,965.6 904.3,964.6 904.1,873.7" fill="#28547a" stroke="#0b0b0b" stroke-width="2.30" stroke-linejoin="round"/>
<polygon points="989.9,1006.1 989.7,1063.3 988.2,1064.3 985.0,1078.8 977.9,1089.2 964.9,1104.8 959.2,1116.0 955.2,1120.4 950.8,1131.5 955.0,1142.0 957.4,1155.8 967.5,1167.5 976.6,1177.9 982.4,1185.7 998.0,1185.7 1003.8,1177.9 1012.9,1167.5 1023.0,1155.8 1025.4,1142.0 1029.6,1131.5 1025.2,1120.4 1021.2,1116.0 1015.5,1104.8 1002.5,1089.2 995.4,1078.8 992.2,1064.3 990.7,1063.3 990.6,1006.1" fill="none" stroke="#fff" stroke-width="9" stroke-linejoin="round"/><polygon points="989.9,1006.1 989.7,1063.3 988.2,1064.3 985.0,1078.8 977.9,1089.2 964.9,1104.8 959.2,1116.0 955.2,1120.4 950.8,1131.5 955.0,1142.0 957.4,1155.8 967.5,1167.5 976.6,1177.9 982.4,1185.7 998.0,1185.7 1003.8,1177.9 1012.9,1167.5 1023.0,1155.8 1025.4,1142.0 1029.6,1131.5 1025.2,1120.4 1021.2,1116.0 1015.5,1104.8 1002.5,1089.2 995.4,1078.8 992.2,1064.3 990.7,1063.3 990.6,1006.1" fill="#3e81b7" stroke="#0b0b0b" stroke-width="2.30" stroke-linejoin="round"/>
<polygon points="1076.7,917.9 1076.5,1019.1 1073.8,1037.3 1068.6,1060.7 1059.5,1086.6 1053.0,1112.6 1050.0,1130.0 1049.7,1146.7 1055.6,1159.7 1063.4,1172.7 1071.2,1185.2 1082.8,1185.2 1090.6,1172.7 1098.4,1159.7 1104.3,1146.7 1104.0,1130.0 1101.0,1112.6 1094.5,1086.6 1085.4,1060.7 1080.2,1037.3 1077.5,1019.1 1077.3,917.9" fill="none" stroke="#fff" stroke-width="9" stroke-linejoin="round"/><polygon points="1076.7,917.9 1076.5,1019.1 1073.8,1037.3 1068.6,1060.7 1059.5,1086.6 1053.0,1112.6 1050.0,1130.0 1049.7,1146.7 1055.6,1159.7 1063.4,1172.7 1071.2,1185.2 1082.8,1185.2 1090.6,1172.7 1098.4,1159.7 1104.3,1146.7 1104.0,1130.0 1101.0,1112.6 1094.5,1086.6 1085.4,1060.7 1080.2,1037.3 1077.5,1019.1 1077.3,917.9" fill="#56b1f7" stroke="#0b0b0b" stroke-width="2.30" stroke-linejoin="round"/>
<rect x="759.9" y="858.7" width="373.3" height="347.7" fill="none" stroke="#1a1a1a" stroke-width="2.0"/>
<path d="M752.5 1191.4H759.9M752.5 1127.3H759.9M752.5 1064.5H759.9M752.5 1001.1H759.9M752.5 938.1H759.9M752.5 874.5H759.9M816.3 1206.4V1213.4M903.8 1206.4V1213.4M990.2 1206.4V1213.4M1077.0 1206.4V1213.4" stroke="#222" stroke-width="2.0" fill="none"/>
<text class="t" transform="translate(746.8 1202.0) scale(1 1.120)" font-size="22.0" text-anchor="end">0</text>
<text class="t" transform="translate(746.8 1137.9) scale(1 1.120)" font-size="22.0" text-anchor="end">10</text>
<text class="t" transform="translate(746.8 1075.1) scale(1 1.120)" font-size="22.0" text-anchor="end">20</text>
<text class="t" transform="translate(746.8 1011.7) scale(1 1.120)" font-size="22.0" text-anchor="end">30</text>
<text class="t" transform="translate(746.8 948.7) scale(1 1.120)" font-size="22.0" text-anchor="end">40</text>
<text class="t" transform="translate(746.8 885.1) scale(1 1.120)" font-size="22.0" text-anchor="end">50</text>
<text class="t" x="814.7" y="1243.3" font-size="24.5" text-anchor="middle">2</text>
<text class="t" x="902.2" y="1243.3" font-size="24.5" text-anchor="middle">3</text>
<text class="t" x="988.6" y="1243.3" font-size="24.5" text-anchor="middle">4</text>
<text class="t" x="1075.4" y="1243.3" font-size="24.5" text-anchor="middle">5</text>
<text class="mo" x="945.3" y="1273.6" font-size="27.5" text-anchor="middle">month</text>
</g>
<g>
<path d="M1395.1 1192.0H1756.3M1395.1 1128.2H1756.3M1395.1 1065.9H1756.3M1395.1 1002.5H1756.3M1395.1 939.5H1756.3M1395.1 876.2H1756.3" stroke="#e8e8e8" stroke-width="2.0" fill="none"/>
<path d="M1395.1 907.8H1756.3M1395.1 971.0H1756.3M1395.1 1034.2H1756.3M1395.1 1097.0H1756.3M1395.1 1160.1H1756.3M1402.3 865.2V1200.4M1489.1 865.2V1200.4M1575.9 865.2V1200.4M1662.7 865.2V1200.4M1749.5 865.2V1200.4" stroke="#ededed" stroke-width="1.6" fill="none"/>
<path d="M1445.7 865.2V1200.4M1532.7 865.2V1200.4M1619.1 865.2V1200.4M1706.1 865.2V1200.4" stroke="#e8e8e8" stroke-width="2.0" fill="none"/>
<polygon points="1445.4,875.8 1445.2,969.8 1444.2,971.0 1442.7,1006.1 1440.5,1026.9 1437.9,1047.7 1435.3,1073.6 1433.5,1099.6 1432.3,1125.6 1433.4,1146.5 1437.5,1162.3 1441.5,1177.9 1442.7,1186.2 1448.7,1186.2 1449.9,1177.9 1453.9,1162.3 1458.0,1146.5 1459.1,1125.6 1457.9,1099.6 1456.1,1073.6 1453.5,1047.7 1450.9,1026.9 1448.7,1006.1 1447.2,971.0 1446.2,969.8 1446.0,875.8" fill="none" stroke="#fff" stroke-width="9" stroke-linejoin="round"/><polygon points="1445.4,875.8 1445.2,969.8 1444.2,971.0 1442.7,1006.1 1440.5,1026.9 1437.9,1047.7 1435.3,1073.6 1433.5,1099.6 1432.3,1125.6 1433.4,1146.5 1437.5,1162.3 1441.5,1177.9 1442.7,1186.2 1448.7,1186.2 1449.9,1177.9 1453.9,1162.3 1458.0,1146.5 1459.1,1125.6 1457.9,1099.6 1456.1,1073.6 1453.5,1047.7 1450.9,1026.9 1448.7,1006.1 1447.2,971.0 1446.2,969.8 1446.0,875.8" fill="#132b43" stroke="#0b0b0b" stroke-width="2.30" stroke-linejoin="round"/>
<polygon points="1532.4,956.8 1532.2,1021.7 1531.2,1023.0 1530.1,1052.9 1528.2,1084.0 1524.3,1099.6 1517.8,1125.6 1512.0,1151.5 1509.3,1163.6 1510.7,1174.0 1518.4,1183.0 1524.7,1190.0 1527.7,1192.2 1537.7,1192.2 1540.7,1190.0 1547.0,1183.0 1554.7,1174.0 1556.1,1163.6 1553.4,1151.5 1547.6,1125.6 1541.1,1099.6 1537.2,1084.0 1535.3,1052.9 1534.2,1023.0 1533.2,1021.7 1533.0,956.8" fill="none" stroke="#fff" stroke-width="9" stroke-linejoin="round"/><polygon points="1532.4,956.8 1532.2,1021.7 1531.2,1023.0 1530.1,1052.9 1528.2,1084.0 1524.3,1099.6 1517.8,1125.6 1512.0,1151.5 1509.3,1163.6 1510.7,1174.0 1518.4,1183.0 1524.7,1190.0 1527.7,1192.2 1537.7,1192.2 1540.7,1190.0 1547.0,1183.0 1554.7,1174.0 1556.1,1163.6 1553.4,1151.5 1547.6,1125.6 1541.1,1099.6 1537.2,1084.0 1535.3,1052.9 1534.2,1023.0 1533.2,1021.7 1533.0,956.8" fill="#28547a" stroke="#0b0b0b" stroke-width="2.30" stroke-linejoin="round"/>
<polygon points="1618.8,1033.4 1618.6,1112.6 1617.6,1113.5 1613.9,1123.2 1602.2,1133.5 1589.2,1141.3 1583.5,1146.5 1582.8,1159.5 1580.0,1164.7 1588.1,1171.6 1602.2,1180.5 1612.6,1188.3 1616.5,1192.2 1621.7,1192.2 1625.6,1188.3 1636.0,1180.5 1650.1,1171.6 1658.2,1164.7 1655.4,1159.5 1654.7,1146.5 1649.0,1141.3 1636.0,1133.5 1624.3,1123.2 1620.6,1113.5 1619.6,1112.6 1619.4,1033.4" fill="none" stroke="#fff" stroke-width="9" stroke-linejoin="round"/><polygon points="1618.8,1033.4 1618.6,1112.6 1617.6,1113.5 1613.9,1123.2 1602.2,1133.5 1589.2,1141.3 1583.5,1146.5 1582.8,1159.5 1580.0,1164.7 1588.1,1171.6 1602.2,1180.5 1612.6,1188.3 1616.5,1192.2 1621.7,1192.2 1625.6,1188.3 1636.0,1180.5 1650.1,1171.6 1658.2,1164.7 1655.4,1159.5 1654.7,1146.5 1649.0,1141.3 1636.0,1133.5 1624.3,1123.2 1620.6,1113.5 1619.6,1112.6 1619.4,1033.4" fill="#3e81b7" stroke="#0b0b0b" stroke-width="2.30" stroke-linejoin="round"/>
<polygon points="1705.8,1001.5 1705.6,1060.7 1704.6,1062.0 1702.9,1073.6 1695.1,1099.6 1687.3,1125.6 1682.7,1151.5 1683.4,1164.7 1691.2,1175.3 1697.7,1183.0 1700.3,1187.0 1711.9,1187.0 1714.5,1183.0 1721.0,1175.3 1728.8,1164.7 1729.5,1151.5 1724.9,1125.6 1717.1,1099.6 1709.3,1073.6 1707.6,1062.0 1706.6,1060.7 1706.4,1001.5" fill="none" stroke="#fff" stroke-width="9" stroke-linejoin="round"/><polygon points="1705.8,1001.5 1705.6,1060.7 1704.6,1062.0 1702.9,1073.6 1695.1,1099.6 1687.3,1125.6 1682.7,1151.5 1683.4,1164.7 1691.2,1175.3 1697.7,1183.0 1700.3,1187.0 1711.9,1187.0 1714.5,1183.0 1721.0,1175.3 1728.8,1164.7 1729.5,1151.5 1724.9,1125.6 1717.1,1099.6 1709.3,1073.6 1707.6,1062.0 1706.6,1060.7 1706.4,1001.5" fill="#56b1f7" stroke="#0b0b0b" stroke-width="2.30" stroke-linejoin="round"/>
<rect x="1389.6" y="860.7" width="372.2" height="345.7" fill="none" stroke="#1a1a1a" stroke-width="2.0"/>
<path d="M1382.5 1192.0H1389.6M1382.5 1128.2H1389.6M1382.5 1065.9H1389.6M1382.5 1002.5H1389.6M1382.5 939.5H1389.6M1382.5 876.2H1389.6M1445.7 1206.4V1213.4M1532.7 1206.4V1213.4M1619.1 1206.4V1213.4M1706.1 1206.4V1213.4" stroke="#222" stroke-width="2.0" fill="none"/>
<text class="t" transform="translate(1376.6 1202.6) scale(1 1.120)" font-size="22.0" text-anchor="end">0</text>
<text class="t" transform="translate(1376.6 1138.8) scale(1 1.120)" font-size="22.0" text-anchor="end">10</text>
<text class="t" transform="translate(1376.6 1076.5) scale(1 1.120)" font-size="22.0" text-anchor="end">20</text>
<text class="t" transform="translate(1376.6 1013.1) scale(1 1.120)" font-size="22.0" text-anchor="end">30</text>
<text class="t" transform="translate(1376.6 950.1) scale(1 1.120)" font-size="22.0" text-anchor="end">40</text>
<text class="t" transform="translate(1376.6 886.8) scale(1 1.120)" font-size="22.0" text-anchor="end">50</text>
<text class="t" x="1444.1" y="1243.8" font-size="24.5" text-anchor="middle">2</text>
<text class="t" x="1531.1" y="1243.8" font-size="24.5" text-anchor="middle">3</text>
<text class="t" x="1617.5" y="1243.8" font-size="24.5" text-anchor="middle">4</text>
<text class="t" x="1704.5" y="1243.8" font-size="24.5" text-anchor="middle">5</text>
<text class="mo" x="1574.2" y="1273.6" font-size="27.5" text-anchor="middle">month</text>
</g>
<text class="big" x="302.5" y="31.3" font-size="38" text-anchor="middle" textLength="302" lengthAdjust="spacingAndGlyphs">Escuelas Aguirre</text>
<text class="big" x="957" y="43.7" font-size="39" text-anchor="middle" textLength="286" lengthAdjust="spacingAndGlyphs">Casa de Campo</text>
<text class="big" x="1581" y="41.3" font-size="39" text-anchor="middle" textLength="149" lengthAdjust="spacingAndGlyphs">Farolillo</text>
<text class="big" transform="translate(37.10 360.75) rotate(-90)" font-size="40.5" textLength="218.5" lengthAdjust="spacingAndGlyphs">NO2, µg/m<tspan font-size="27" dy="-13.5">3</tspan></text>
<text class="big" transform="translate(690.85 360.75) rotate(-90)" font-size="40.5" textLength="218.5" lengthAdjust="spacingAndGlyphs">NO2, µg/m<tspan font-size="27" dy="-13.5">3</tspan></text>
<text class="big" transform="translate(1321.60 360.75) rotate(-90)" font-size="40.5" textLength="218.5" lengthAdjust="spacingAndGlyphs">NO2, µg/m<tspan font-size="27" dy="-13.5">3</tspan></text>
<text class="big" transform="translate(62.10 724.50) rotate(-90)" font-size="40.5" textLength="189.5" lengthAdjust="spacingAndGlyphs">O3, µg/m<tspan font-size="27" dy="-13.5">3</tspan></text>
<text class="big" transform="translate(709.10 724.20) rotate(-90)" font-size="40.5" textLength="189.5" lengthAdjust="spacingAndGlyphs">O3, µg/m<tspan font-size="27" dy="-13.5">3</tspan></text>
<text class="big" transform="translate(1325.85 724.20) rotate(-90)" font-size="40.5" textLength="189.5" lengthAdjust="spacingAndGlyphs">O3, µg/m<tspan font-size="27" dy="-13.5">3</tspan></text>
<text class="big" transform="translate(50.85 1142.00) rotate(-90)" font-size="40.5" textLength="243.8" lengthAdjust="spacingAndGlyphs">PM10, µg/m<tspan font-size="27" dy="-13.5">3</tspan></text>
<text class="big" transform="translate(692.60 1142.00) rotate(-90)" font-size="40.5" textLength="243.8" lengthAdjust="spacingAndGlyphs">PM10, µg/m<tspan font-size="27" dy="-13.5">3</tspan></text>
<text class="big" transform="translate(1327.10 1142.00) rotate(-90)" font-size="40.5" textLength="242.0" lengthAdjust="spacingAndGlyphs">PM10, µg/m<tspan font-size="27" dy="-13.5">3</tspan></text>
</svg></body></html>
